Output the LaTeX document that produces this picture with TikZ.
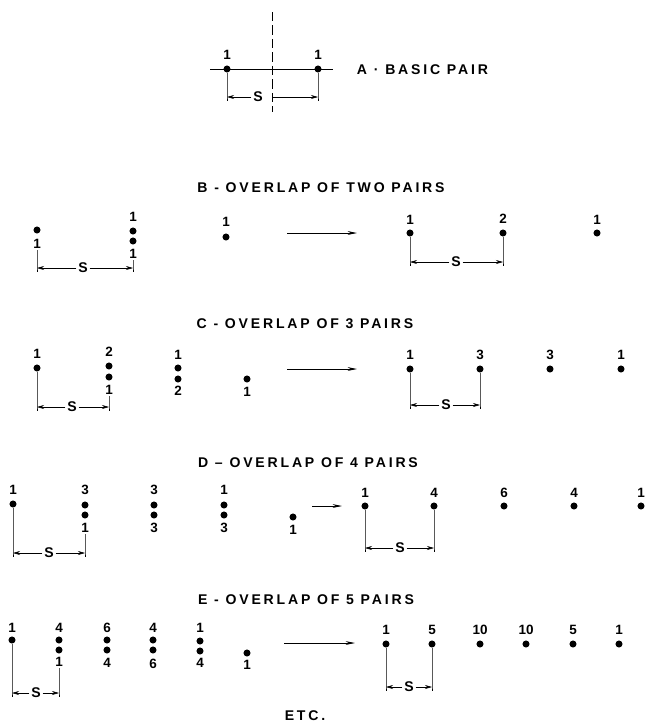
\documentclass[tikz,border=0pt]{standalone}
\usepackage{fontspec}
\setsansfont{Liberation Sans}
\newfontfamily\letfont[LetterSpace=20]{Liberation Sans}
\usetikzlibrary{arrows.meta, positioning}

\begin{document}
\begin{tikzpicture}[
    x=0.03cm, y=-0.03cm,
    dot/.style={circle, fill=black, inner sep=0pt, minimum size=6pt},
    num/.style={font=\sffamily\bfseries\fontsize{11.5}{12}\selectfont, inner sep=1pt},
    caption/.style={font=\letfont\bfseries\fontsize{12}{13}\selectfont, inner sep=1.5pt},
    ext/.style={line width=0.5pt},
    dim/.style={-{Stealth[length=6pt, width=3.4pt]}, line width=0.5pt},
    move/.style={-{Stealth[length=8pt, width=3.2pt]}, semithick},
    center/.style={line width=0.5pt, dash pattern=on 8pt off 3.5pt}
]
\useasboundingbox (0,0) rectangle (645,723);

% A: basic pair
\coordinate (cTop) at (272,12);
\coordinate (cBot) at (272,112);
\draw[center] (cTop) -- (cBot);
\coordinate (hL) at (210,69);
\coordinate (hR) at (333,69);
\draw[ext] (hL) -- (hR);
\node[dot] (a1) at (227,69) {};
\node[dot] (a2) at (318,69) {};
\node[num] (a1n) at (227,55) {1};
\node[num] (a2n) at (318,55) {1};
\coordinate (aL) at (227,97);
\coordinate (aM) at (272,97);
\coordinate (aR) at (318,97);
\draw[ext] (a1) -- (aL) -- ++(0,4);
\draw[ext] (a2) -- (aR) -- ++(0,4);
\node[caption] (sA) at (258,97) {S};
\draw[dim] (sA) -- (aL);
\draw[dim] (aM) -- (aR);
\node[caption, anchor=west] (tA) at (355,70) {A · BASIC PAIR};

% B: overlap of two pairs
\node[caption] (tB) at (321,188) {B - OVERLAP OF TWO PAIRS};
\node[dot] (b1) at (37,230) {};
\node[num] (b1n) at (37,244) {1};
\node[num] (b2t) at (133,217) {1};
\node[dot] (b2a) at (133,231) {};
\node[dot] (b2b) at (133,241) {};
\node[num] (b2n) at (133,254) {1};
\node[num] (b3t) at (226,222) {1};
\node[dot] (b3) at (226,237) {};
\coordinate (b1d) at (37,268);
\coordinate (b2d) at (133,268);
\draw[ext] (b1n) -- (b1d) -- ++(0,4);
\draw[ext] (b2n) -- (b2d) -- ++(0,4);
\node[caption] (sB1) at (83,268) {S};
\draw[dim] (sB1) -- (b1d);
\draw[dim] (sB1) -- (b2d);
\coordinate (bA1) at (287,233);
\coordinate (bA2) at (357,233);
\draw[move] (bA1) -- (bA2);
\node[dot] (b4) at (410,233) {};
\node[dot] (b5) at (503,233) {};
\node[dot] (b6) at (597,233) {};
\node[num] (b4n) at (410,220) {1};
\node[num] (b5n) at (503,219) {2};
\node[num] (b6n) at (597,220) {1};
\coordinate (b4d) at (410,262);
\coordinate (b5d) at (503,262);
\draw[ext] (b4) -- (b4d) -- ++(0,4);
\draw[ext] (b5) -- (b5d) -- ++(0,4);
\node[caption] (sB2) at (456,262) {S};
\draw[dim] (sB2) -- (b4d);
\draw[dim] (sB2) -- (b5d);

% C: overlap of 3 pairs
\node[caption] (tC) at (305,324) {C - OVERLAP OF 3 PAIRS};
\node[num] (c1t) at (37,354) {1};
\node[dot] (c1) at (37,368) {};
\node[num] (c2t) at (109,352) {2};
\node[dot] (c2a) at (109,366) {};
\node[dot] (c2b) at (109,377) {};
\node[num] (c2n) at (109,390) {1};
\node[num] (c3t) at (178,355) {1};
\node[dot] (c3a) at (178,368) {};
\node[dot] (c3b) at (178,379) {};
\node[num] (c3n) at (178,391) {2};
\node[dot] (c4) at (247,379) {};
\node[num] (c4n) at (247,392) {1};
\coordinate (c1d) at (37,407);
\coordinate (c2d) at (109,407);
\draw[ext] (c1) -- (c1d) -- ++(0,4);
\draw[ext] (c2n) -- (c2d) -- ++(0,4);
\node[caption] (sC1) at (72,407) {S};
\draw[dim] (sC1) -- (c1d);
\draw[dim] (sC1) -- (c2d);
\coordinate (cA1) at (287,369);
\coordinate (cA2) at (357,369);
\draw[move] (cA1) -- (cA2);
\node[dot] (c5) at (410,369) {};
\node[dot] (c6) at (480,369) {};
\node[dot] (c7) at (550,369) {};
\node[dot] (c8) at (621,369) {};
\node[num] (c5n) at (410,355) {1};
\node[num] (c6n) at (480,355) {3};
\node[num] (c7n) at (550,355) {3};
\node[num] (c8n) at (621,355) {1};
\coordinate (c5d) at (410,405);
\coordinate (c6d) at (480,405);
\draw[ext] (c5) -- (c5d) -- ++(0,4);
\draw[ext] (c6) -- (c6d) -- ++(0,4);
\node[caption] (sC2) at (446,405) {S};
\draw[dim] (sC2) -- (c5d);
\draw[dim] (sC2) -- (c6d);

% D: overlap of 4 pairs
\node[caption] (tD) at (308,463) {D – OVERLAP OF 4 PAIRS};
\node[num] (d1t) at (13,490) {1};
\node[dot] (d1) at (13,504) {};
\node[num] (d2t) at (85,490) {3};
\node[dot] (d2a) at (85,505) {};
\node[dot] (d2b) at (85,515) {};
\node[num] (d2n) at (85,528) {1};
\node[num] (d3t) at (154,490) {3};
\node[dot] (d3a) at (154,505) {};
\node[dot] (d3b) at (154,515) {};
\node[num] (d3n) at (154,528) {3};
\node[num] (d4t) at (224,490) {1};
\node[dot] (d4a) at (224,505) {};
\node[dot] (d4b) at (224,515) {};
\node[num] (d4n) at (224,528) {3};
\node[dot] (d5) at (293,517) {};
\node[num] (d5n) at (293,530) {1};
\coordinate (d1d) at (13,553);
\coordinate (d2d) at (85,553);
\draw[ext] (d1) -- (d1d) -- ++(0,4);
\draw[ext] (d2n) -- (d2d) -- ++(0,4);
\node[caption] (sD1) at (49,553) {S};
\draw[dim] (sD1) -- (d1d);
\draw[dim] (sD1) -- (d2d);
\coordinate (dA1) at (312,506);
\coordinate (dA2) at (342,506);
\draw[move] (dA1) -- (dA2);
\node[dot] (d6) at (365,506) {};
\node[dot] (d7) at (434,506) {};
\node[dot] (d8) at (504,506) {};
\node[dot] (d9) at (574,506) {};
\node[dot] (d10) at (641,506) {};
\node[num] (d6n) at (365,493) {1};
\node[num] (d7n) at (434,493) {4};
\node[num] (d8n) at (504,493) {6};
\node[num] (d9n) at (574,493) {4};
\node[num] (d10n) at (641,493) {1};
\coordinate (d6d) at (365,548);
\coordinate (d7d) at (434,548);
\draw[ext] (d6) -- (d6d) -- ++(0,4);
\draw[ext] (d7) -- (d7d) -- ++(0,4);
\node[caption] (sD2) at (400,548) {S};
\draw[dim] (sD2) -- (d6d);
\draw[dim] (sD2) -- (d7d);

% E: overlap of 5 pairs
\node[caption] (tE) at (306,600) {E - OVERLAP OF 5 PAIRS};
\node[num] (e1t) at (12,628) {1};
\node[dot] (e1) at (12,640) {};
\node[num] (e2t) at (59,628) {4};
\node[dot] (e2a) at (59,640) {};
\node[dot] (e2b) at (59,650) {};
\node[num] (e2n) at (59,662) {1};
\node[num] (e3t) at (107,628) {6};
\node[dot] (e3a) at (107,640) {};
\node[dot] (e3b) at (107,650) {};
\node[num] (e3n) at (107,663) {4};
\node[num] (e4t) at (153,628) {4};
\node[dot] (e4a) at (153,640) {};
\node[dot] (e4b) at (153,650) {};
\node[num] (e4n) at (153,664) {6};
\node[num] (e5t) at (200,628) {1};
\node[dot] (e5a) at (200,641) {};
\node[dot] (e5b) at (200,651) {};
\node[num] (e5n) at (200,663) {4};
\node[dot] (e6) at (247,653) {};
\node[num] (e6n) at (247,665) {1};
\coordinate (e1d) at (12,693);
\coordinate (e2d) at (59,693);
\draw[ext] (e1) -- (e1d) -- ++(0,4);
\draw[ext] (e2n) -- (e2d) -- ++(0,4);
\node[caption] (sE1) at (36,693) {S};
\draw[dim] (sE1) -- (e1d);
\draw[dim] (sE1) -- (e2d);
\coordinate (eA1) at (284,643);
\coordinate (eA2) at (355,643);
\draw[move] (eA1) -- (eA2);
\node[dot] (e7) at (386,644) {};
\node[dot] (e8) at (432,644) {};
\node[dot] (e9) at (480,644) {};
\node[dot] (e10) at (526,644) {};
\node[dot] (e11) at (573,644) {};
\node[dot] (e12) at (619,644) {};
\node[num] (e7n) at (386,630) {1};
\node[num] (e8n) at (432,630) {5};
\node[num] (e9n) at (480,630) {10};
\node[num] (e10n) at (526,630) {10};
\node[num] (e11n) at (573,630) {5};
\node[num] (e12n) at (619,630) {1};
\coordinate (e7d) at (386,687);
\coordinate (e8d) at (432,687);
\draw[ext] (e7) -- (e7d) -- ++(0,4);
\draw[ext] (e8) -- (e8d) -- ++(0,4);
\node[caption] (sE2) at (409,687) {S};
\draw[dim] (sE2) -- (e7d);
\draw[dim] (sE2) -- (e8d);

\node[caption] (etc) at (305,716) {ETC.};

\end{tikzpicture}
\end{document}
